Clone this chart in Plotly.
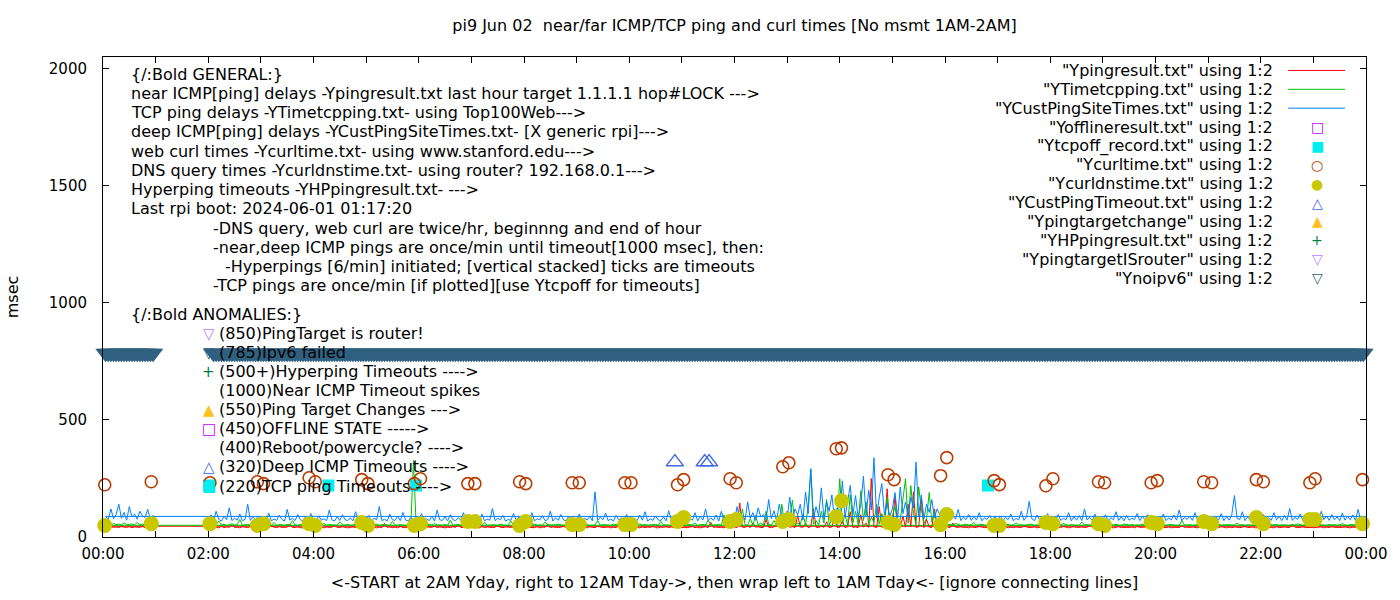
import plotly.graph_objects as go
from datetime import datetime, timedelta

# ---------------- DATA ----------------
# Dense ping series: rows = clock hours 02..23 (3-min samples), then the 24:00 sample,
# then the wrapped hour 00:03..01:00 (plotted at the left side of the chart).
near_icmp_rows = [
    [42,40,44,41,39,46,40,43,41,52,40,42,39,44,41,40,45,42,40,43],
    [41,43,40,39,48,42,40,44,41,40,42,55,40,41,43,40,39,42,44,41],
    [40,42,45,41,39,43,40,42,50,41,40,44,42,39,41,43,40,46,41,40],
    [43,40,41,44,39,42,40,58,41,43,40,42,39,45,41,40,43,41,42,40],
    [41,39,44,42,40,41,47,40,43,41,39,42,40,44,41,53,40,42,41,43],
    [40,42,41,39,45,40,43,41,40,42,49,41,40,43,42,39,41,44,40,42],
    [42,40,43,41,40,44,39,42,41,56,40,43,41,40,42,45,41,39,43,40],
    [41,43,40,42,39,44,41,40,46,42,40,41,43,39,42,40,48,41,40,42],
    [40,42,44,41,39,43,40,42,41,45,40,39,42,41,44,40,43,41,50,40],
    [42,41,40,43,45,40,42,39,41,44,40,62,41,43,40,42,39,45,41,40],
    [43,40,145,42,41,48,40,60,42,44,40,41,75,42,40,43,55,41,40,46],
    [110,41,45,40,92,43,41,58,40,44,120,42,40,47,41,65,40,43,85,41],
    [42,70,40,44,108,41,43,40,95,42,60,41,250,44,40,130,42,41,206,43],
    [45,177,41,40,90,42,140,43,193,41,44,160,40,75,42,41,120,40,43,55],
    [41,43,40,60,42,41,44,40,42,39,43,41,40,45,42,40,41,43,39,42],
    [40,42,41,44,39,42,40,43,41,40,46,42,40,41,43,39,42,44,40,41],
    [42,40,43,41,40,45,41,39,42,44,40,41,43,40,42,52,41,40,43,41],
    [41,43,40,42,39,41,44,40,42,41,40,43,39,45,41,42,40,43,41,40],
    [40,42,44,41,40,43,39,42,41,40,48,41,42,40,43,41,39,44,40,42],
    [42,40,41,43,40,44,41,39,42,40,43,41,40,42,45,40,41,43,39,41],
    [41,43,40,42,41,39,44,40,42,43,41,40,55,42,40,41,43,40,42,41],
    [40,42,41,43,39,42,40,44,41,40,42,41,43,40,39,42,41,44,40,46],
]
near_icmp_midnight = 46
near_icmp_after = [46,42,44,41,43,40,45,42,41,44,40,43,42,41,45,40,42,44,41,43]

tcp_rows = [
    [52,55,50,53,68,51,54,50,52,57,51,53,75,50,52,54,51,50,56,52],
    [53,50,52,55,51,62,50,53,52,50,54,51,70,52,50,53,51,55,50,52],
    [51,54,50,52,58,50,53,51,52,50,65,52,51,54,50,52,53,50,51,60],
    [52,50,53,51,55,50,52,54,51,50,66,52,50,53,51,52,50,55,327,52],
    [50,53,51,52,54,50,58,51,52,50,53,51,72,50,52,54,51,50,52,53],
    [52,51,50,54,52,62,50,51,53,52,50,55,51,52,50,68,51,53,50,52],
    [51,53,52,50,55,51,52,50,64,53,51,50,52,54,51,50,53,52,58,51],
    [50,52,54,51,53,50,52,51,70,50,53,52,51,50,55,52,51,53,50,52],
    [53,51,50,52,56,51,53,50,52,51,54,50,66,52,51,53,50,52,51,55],
    [52,50,53,51,52,60,50,52,54,51,72,50,52,51,53,50,95,52,51,53],
    [51,85,52,120,53,50,78,51,92,52,60,50,110,53,51,70,52,50,140,52],
    [55,80,157,52,60,53,98,51,130,287,54,70,52,110,60,160,52,75,120,53],
    [249,58,95,52,180,60,110,54,198,70,150,53,85,62,140,55,100,60,170,52],
    [90,130,55,75,160,249,60,220,100,56,214,120,58,80,190,65,110,54,70,52],
    [60,52,54,51,58,53,50,52,55,51,53,62,50,52,54,51,50,53,52,51],
    [52,50,53,51,54,50,52,60,51,53,50,52,51,55,50,52,53,51,50,52],
    [51,53,50,52,51,58,52,50,53,51,52,50,64,51,53,50,52,51,54,50],
    [52,51,53,50,52,54,51,50,56,52,51,53,50,52,51,55,50,52,53,51],
    [50,52,51,53,50,52,54,51,52,50,70,52,51,53,50,52,51,54,50,52],
    [53,51,52,50,54,51,52,50,53,51,52,60,51,53,50,52,51,52,50,53],
    [51,52,50,53,51,52,54,50,52,51,53,50,52,51,56,52,50,53,51,52],
    [52,50,53,51,52,50,54,51,53,50,52,58,51,50,53,52,51,50,52,50],
]
tcp_midnight = 50
tcp_after = [50,54,52,58,53,55,52,60,54,53,56,52,62,53,55,52,54,53,56,60]

deep_icmp_rows = [
    [72,95,70,110,75,68,88,74,125,70,80,72,98,69,76,140,71,85,73,90],
    [70,84,73,102,69,77,71,93,75,68,118,72,80,70,96,74,69,87,72,100],
    [75,69,90,72,78,70,115,73,68,86,71,95,74,70,82,69,108,72,77,70],
    [71,92,68,80,74,130,70,76,69,98,73,71,88,70,105,72,69,84,74,79],
    [69,100,72,78,70,90,68,115,73,71,86,69,96,74,70,82,72,104,68,77],
    [73,70,88,71,98,69,76,72,122,70,80,74,92,68,75,71,100,73,86,70],
    [70,85,72,104,69,78,73,91,70,74,110,68,82,71,96,73,70,88,72,79],
    [72,98,70,80,73,88,69,193,71,85,74,102,70,77,68,92,73,81,70,96],
    [69,82,74,70,94,72,108,68,78,71,90,73,70,86,69,112,72,76,70,84],
    [74,96,70,78,72,104,69,88,73,120,70,82,71,94,68,110,72,80,74,98],
    [70,130,76,92,72,150,80,104,71,125,85,96,74,160,78,112,70,140,88,100],
    [82,170,75,120,95,140,72,192,100,292,78,130,90,210,76,150,110,180,74,125],
    [100,240,85,160,220,95,177,80,140,260,90,200,115,339,82,170,228,95,145,88],
    [120,190,80,214,100,150,85,170,125,320,90,180,78,140,105,160,82,120,95,110],
    [80,100,72,90,76,118,70,85,74,96,71,88,73,104,69,82,75,92,70,86],
    [72,90,70,84,74,98,69,80,73,110,71,86,152,78,70,94,72,82,74,100],
    [70,88,73,96,71,80,74,104,69,86,72,92,70,120,73,84,71,98,75,82],
    [73,95,70,82,74,108,71,86,69,92,72,80,75,100,70,88,73,96,71,84],
    [71,86,74,98,70,82,73,94,72,115,69,84,75,90,71,104,73,80,70,92],
    [74,90,71,84,73,100,70,88,72,96,177,80,74,108,70,86,72,94,73,82],
    [70,96,73,82,71,104,74,88,70,92,72,122,71,84,75,98,70,86,73,90],
    [72,84,70,110,74,90,71,96,73,86,70,102,72,88,74,94,71,118,70,85],
]
deep_icmp_midnight = 88
deep_icmp_after = [88,74,120,78,96,140,80,105,72,130,86,98,76,110,90,84,118,75,92,80]

# web curl times (twice an hour) and DNS query times at the same moments
curl_times = ["00:02","00:55","02:02","02:56","03:03","03:55","04:02","04:55","05:02","05:55",
              "06:02","06:56","07:04","07:55","08:02","08:55","09:03","09:55","10:02","10:55",
              "11:02","11:55","12:02","12:55","13:02","13:56","14:02","14:55","15:02","15:55",
              "16:02","16:56","17:02","17:55","18:03","18:55","19:02","19:55","20:02","20:55",
              "21:04","21:55","22:03","22:56","23:02","23:56"]
curl_ms = [223,236,232,236,228,253,236,245,228,228,
           249,228,228,236,228,232,232,232,232,223,
           245,249,232,300,317,377,381,266,245,262,
           339,241,224,219,249,236,232,232,241,236,
           232,245,236,232,249,245]
dns_ms = [49,57,57,49,57,57,49,62,49,49,
          57,66,66,49,66,53,53,53,53,66,
          83,66,75,66,75,87,155,62,53,53,
          96,49,49,62,57,57,49,62,57,66,
          57,83,57,75,75,57]

tcpoff_times = ["02:01","04:17","05:57","16:49"]
tcpoff_ms = [220,220,220,220]

deep_timeout_times = ["10:52","11:26","11:31"]
deep_timeout_ms = [320,320,320]

offline_times, offline_ms = [], []
target_change_times, target_change_ms = [], []
hp_times, hp_ms = [], []
isrouter_times, isrouter_ms = [], []

noipv6_spans = [("00:03","00:57"),("02:06","23:57")]
noipv6_level = 785
noipv6_step_min = 3

legend_labels = ['"Ypingresult.txt" using 1:2', '"YTimetcpping.txt" using 1:2',
                 '"YCustPingSiteTimes.txt" using 1:2', '"Yofflineresult.txt" using 1:2',
                 '"Ytcpoff_record.txt" using 1:2', '"Ycurltime.txt" using 1:2',
                 '"Ycurldnstime.txt" using 1:2', '"YCustPingTimeout.txt" using 1:2',
                 '"Ypingtargetchange" using 1:2', '"YHPpingresult.txt" using 1:2',
                 '"YpingtargetISrouter" using 1:2', '"Ynoipv6" using 1:2']

general_lines = ["{/:Bold GENERAL:}",
                 "near ICMP[ping] delays -Ypingresult.txt last hour target 1.1.1.1 hop#LOCK --->",
                 "TCP ping delays -YTimetcpping.txt- using Top100Web--->",
                 "deep ICMP[ping] delays -YCustPingSiteTimes.txt- [X generic rpi]--->",
                 "web curl times -Ycurltime.txt- using www.stanford.edu--->",
                 "DNS query times -Ycurldnstime.txt- using router? 192.168.0.1--->",
                 "Hyperping timeouts -YHPpingresult.txt- --->",
                 "Last rpi boot: 2024-06-01 01:17:20"]
note_lines = ["-DNS query, web curl are twice/hr, beginnng and end of hour",
              "-near,deep ICMP pings are once/min until timeout[1000 msec], then:",
              " -Hyperpings [6/min] initiated; [vertical stacked] ticks are timeouts",
              "-TCP pings are once/min [if plotted][use Ytcpoff for timeouts]"]
anomaly_lines = [("\u25BD", "#c080ff", "(850)PingTarget is router!"),
                 ("\u25BD", "#306080", "(785)Ipv6 failed"),
                 ("+", "#008040", "(500+)Hyperping Timeouts ---->"),
                 (None, None, "(1000)Near ICMP Timeout spikes"),
                 ("\u25B2", "#ffc020", "(550)Ping Target Changes --->"),
                 ("\u25A1", "#c000ff", "(450)OFFLINE STATE ----->"),
                 (None, None, "(400)Reboot/powercycle? ---->"),
                 ("\u25B3", "#4169e1", "(320)Deep ICMP Timeouts ---->"),
                 ("\u25A0", "#00eeee", "(220)TCP ping Timeouts ---->")]

title_text = "pi9 Jun 02 \u00a0near/far ICMP/TCP ping and curl times [No msmt 1AM-2AM]"
xtitle_text = "<-START at 2AM Yday, right to 12AM Tday->, then wrap left to 1AM Tday<- [ignore connecting lines]"

# ---------------- helpers ----------------
BASE = datetime(2024, 6, 2)
def ts(minutes):
    return (BASE + timedelta(minutes=minutes)).strftime("%Y-%m-%d %H:%M:%S")
def hm(s):
    h, m = s.split(":")
    return int(h) * 60 + int(m)
def esc(s):
    return s.replace("&", "&amp;").replace("<", "&lt;").replace(">", "&gt;")

def ping_series(rows, midnight, after):
    xs, ys = [], []
    for k, row in enumerate(rows):
        n = len(row)
        for j, v in enumerate(row):
            xs.append(ts((2 + k) * 60 + j * 60.0 / n)); ys.append(v)
    xs.append(ts(1440)); ys.append(midnight)
    n = len(after)
    for j, v in enumerate(after):
        xs.append(ts((j + 1) * 60.0 / n)); ys.append(v)
    return xs, ys

FONT = "DejaVu Sans"
FS = 16
fig = go.Figure()

# lines (gnuplot order)
for rows, mid, aft, col in [(near_icmp_rows, near_icmp_midnight, near_icmp_after, "#ff0000"),
                            (tcp_rows, tcp_midnight, tcp_after, "#00c000"),
                            (deep_icmp_rows, deep_icmp_midnight, deep_icmp_after, "#0080ff")]:
    x, y = ping_series(rows, mid, aft)
    fig.add_trace(go.Scatter(x=x, y=y, mode="lines", line=dict(color=col, width=1),
                             showlegend=False, hoverinfo="skip"))

def pts(times, vals, symbol, color, size, lw=1.2, cl=False):
    fig.add_trace(go.Scatter(x=[ts(hm(t)) for t in times], y=vals, mode="markers",
                             marker=dict(symbol=symbol, color=color, size=size,
                                         line=dict(color=color, width=lw)),
                             cliponaxis=cl, showlegend=False, hoverinfo="skip"))

pts(offline_times, offline_ms, "square-open", "#c000ff", 12)
pts(tcpoff_times, tcpoff_ms, "square", "#00eeee", 12, 0)
pts(curl_times, curl_ms, "circle-open", "#b83c00", 12, 1.6)
pts(curl_times, dns_ms, "circle", "#c8c800", 15, 0)
pts(deep_timeout_times, deep_timeout_ms, "triangle-up-open", "#4169e1", 15, 1.5)
pts(target_change_times, target_change_ms, "triangle-up", "#ffc020", 15, 0)
pts(hp_times, hp_ms, "cross-thin-open", "#008040", 12, 1.5)
pts(isrouter_times, isrouter_ms, "triangle-down-open", "#c080ff", 15, 1.5)

nx = []
for a, b in noipv6_spans:
    nx += [ts(m) for m in range(hm(a), hm(b) + 1, noipv6_step_min)]
fig.add_trace(go.Scatter(x=nx, y=[noipv6_level] * len(nx), mode="markers",
                         marker=dict(symbol="triangle-down", color="#306080", size=18, line=dict(width=0)),
                         cliponaxis=False, showlegend=False, hoverinfo="skip"))

# ---------------- layout / text ----------------
L, R, T, B = 101, 1366, 57, 539
PW, PH = R - L, B - T
def pxx(x): return (x - L) / PW
def pyy(y): return (B - y) / PH

ann = []
def txt(x, y, s, anchor="left", color="black", size=FS):
    ann.append(dict(x=pxx(x), y=pyy(y), xref="paper", yref="paper", text=esc(s),
                    showarrow=False, xanchor=anchor, yanchor="middle",
                    font=dict(family=FONT, size=size, color=color)))

LS = 19.1
for i, s in enumerate(general_lines):
    txt(127, 75 + i * LS, s)
for i, s in enumerate(note_lines):
    txt(209 if not s.startswith(" ") else 221, 229 + i * LS, s.strip())
txt(127, 316, "{/:Bold ANOMALIES:}")
for i, (sym, col, s) in enumerate(anomaly_lines):
    yy = 335 + i * LS
    if sym:
        txt(207, yy, sym, anchor="center", color=col, size=15)
    txt(215, yy, s)

legend_syms = [("line", "#ff0000"), ("line", "#00c000"), ("line", "#0080ff"),
               ("\u25A1", "#c000ff"), ("\u25A0", "#00eeee"), ("\u25CB", "#b83c00"),
               ("\u25CF", "#c8c800"), ("\u25B3", "#4169e1"), ("\u25B2", "#ffc020"),
               ("+", "#008040"), ("\u25BD", "#c080ff"), ("\u25BD", "#306080")]
shapes = []
for i, lab in enumerate(legend_labels):
    yy = 70.5 + i * 18.95
    txt(1275, yy, lab, anchor="right")
    kind, col = legend_syms[i]
    if kind == "line":
        shapes.append(dict(type="line", xref="paper", yref="paper", x0=pxx(1288), x1=pxx(1345),
                           y0=pyy(yy), y1=pyy(yy), line=dict(color=col, width=1)))
    else:
        txt(1317, yy, kind, anchor="center", color=col, size=14)

fig.update_layout(
    width=1400, height=600, autosize=False,
    margin=dict(l=L, r=1400 - R, t=T, b=600 - B),
    paper_bgcolor="white", plot_bgcolor="white",
    font=dict(family=FONT, size=FS, color="black"),
    title=dict(text=esc(title_text), x=0.5, xref="paper", xanchor="center",
               y=1 - 25 / 600, yref="container", yanchor="middle",
               font=dict(family=FONT, size=FS, color="black")),
    showlegend=False,
    annotations=ann, shapes=shapes,
)
fig.update_xaxes(type="date", range=[ts(0), ts(1440)], tick0=ts(0), dtick=7200000,
                 tickformat="%H:%M", ticks="inside", ticklen=6, tickcolor="black",
                 tickfont=dict(family=FONT, size=15),
                 showline=True, linecolor="black", linewidth=1, mirror="ticks",
                 showgrid=False, zeroline=False, ticklabelstandoff=3,
                 minor=dict(dtick=3600000, ticks="inside", ticklen=6, tickcolor="black", showgrid=False),
                 title=dict(text=esc(xtitle_text), standoff=14, font=dict(family=FONT, size=FS)))
fig.update_yaxes(range=[0, 2051], tick0=0, dtick=500, ticks="inside", ticklen=6, tickcolor="black",
                 tickfont=dict(family=FONT, size=15),
                 showline=True, linecolor="black", linewidth=1, mirror="ticks",
                 showgrid=False, zeroline=False, ticklabelstandoff=12,
                 title=dict(text="msec", standoff=26, font=dict(family=FONT, size=FS)))

fig.write_html("out.html", config={"displayModeBar": False},
               post_script="document.body.style.margin='0';document.body.style.padding='0';")
